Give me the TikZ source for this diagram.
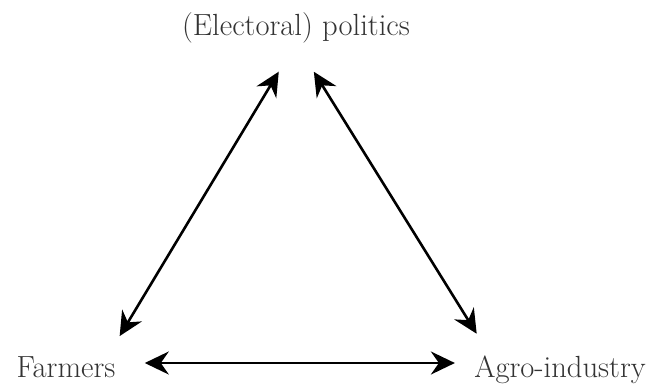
\documentclass[tikz,border=0pt]{standalone}
\usepackage{tikz}
\usetikzlibrary{arrows.meta,positioning,calc}

\begin{document}
\begin{tikzpicture}[x=0.5pt, y=-0.5pt,
    actor/.style={inner sep=0pt, anchor=base, text=black!80,
                  font=\fontsize{15.3}{18}\selectfont},
    link/.style={{Stealth[length=12pt,width=11.5pt,inset=4pt]}-{Stealth[length=12pt,width=11.5pt,inset=4pt]},
                 line width=1.3pt}]
      % Canvas
      \useasboundingbox (0,0) rectangle (663,387);
      % Actors
      \node[actor] (politics) at (296,35) {(Electoral) politics};
      \node[actor] (farmers) at (66,377) {Farmers};
      \node[actor] (agro) at (560,377) {Agro-industry};
      % Relations
      \draw[link, shorten <=11.5pt, shorten >=16.7pt]
        ([xshift=-4pt]farmers.north east) -- (politics.south);
      \draw[link, shorten <=16.9pt, shorten >=12.5pt]
        (politics.south) -- ([xshift=8pt]agro.north west);
      \draw[link, shorten <=14.5pt, shorten >=9.5pt]
        ([yshift=7pt]farmers.base east) -- ([yshift=7pt]agro.base west);
    \end{tikzpicture}
\end{document}
